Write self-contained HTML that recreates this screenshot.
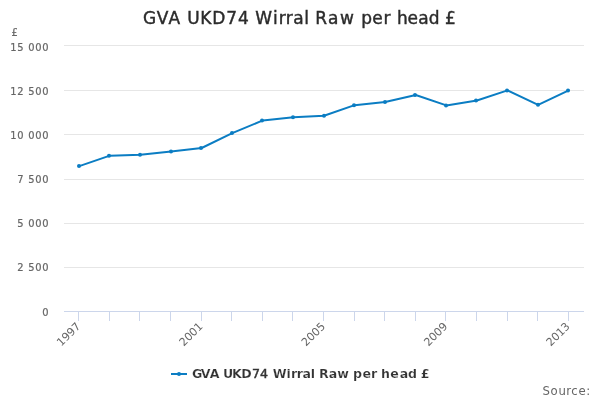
<!DOCTYPE html>
<html><head><meta charset="utf-8"><title>GVA UKD74 Wirral Raw per head £</title>
<style>
html,body{margin:0;padding:0;background:#fff;}
body{width:600px;height:400px;overflow:hidden;}
svg{display:block;font-family:"DejaVu Sans","Liberation Sans",sans-serif;}
.c{font-family:"DejaVu Sans Condensed","DejaVu Sans","Liberation Sans",sans-serif;}
</style></head><body>
<svg width="600" height="400" viewBox="0 0 600 400">
<rect x="0" y="0" width="600" height="400" fill="#FFFFFF"/>
<g><path d="M 64 267.5 L 584 267.5" stroke="#E6E6E6" stroke-width="1" fill="none"/>
<path d="M 64 223.5 L 584 223.5" stroke="#E6E6E6" stroke-width="1" fill="none"/>
<path d="M 64 179.5 L 584 179.5" stroke="#E6E6E6" stroke-width="1" fill="none"/>
<path d="M 64 134.5 L 584 134.5" stroke="#E6E6E6" stroke-width="1" fill="none"/>
<path d="M 64 90.5 L 584 90.5" stroke="#E6E6E6" stroke-width="1" fill="none"/>
<path d="M 64 45.5 L 584 45.5" stroke="#E6E6E6" stroke-width="1" fill="none"/>
</g>
<g><path d="M 78.5 311 L 78.5 321" stroke="#CCD6EB" stroke-width="1" fill="none"/>
<path d="M 109.5 311 L 109.5 321" stroke="#CCD6EB" stroke-width="1" fill="none"/>
<path d="M 139.5 311 L 139.5 321" stroke="#CCD6EB" stroke-width="1" fill="none"/>
<path d="M 170.5 311 L 170.5 321" stroke="#CCD6EB" stroke-width="1" fill="none"/>
<path d="M 201.5 311 L 201.5 321" stroke="#CCD6EB" stroke-width="1" fill="none"/>
<path d="M 231.5 311 L 231.5 321" stroke="#CCD6EB" stroke-width="1" fill="none"/>
<path d="M 262.5 311 L 262.5 321" stroke="#CCD6EB" stroke-width="1" fill="none"/>
<path d="M 292.5 311 L 292.5 321" stroke="#CCD6EB" stroke-width="1" fill="none"/>
<path d="M 323.5 311 L 323.5 321" stroke="#CCD6EB" stroke-width="1" fill="none"/>
<path d="M 354.5 311 L 354.5 321" stroke="#CCD6EB" stroke-width="1" fill="none"/>
<path d="M 384.5 311 L 384.5 321" stroke="#CCD6EB" stroke-width="1" fill="none"/>
<path d="M 415.5 311 L 415.5 321" stroke="#CCD6EB" stroke-width="1" fill="none"/>
<path d="M 445.5 311 L 445.5 321" stroke="#CCD6EB" stroke-width="1" fill="none"/>
<path d="M 476.5 311 L 476.5 321" stroke="#CCD6EB" stroke-width="1" fill="none"/>
<path d="M 507.5 311 L 507.5 321" stroke="#CCD6EB" stroke-width="1" fill="none"/>
<path d="M 537.5 311 L 537.5 321" stroke="#CCD6EB" stroke-width="1" fill="none"/>
<path d="M 568.5 311 L 568.5 321" stroke="#CCD6EB" stroke-width="1" fill="none"/>
<path d="M 64 311.5 L 584 311.5" stroke="#CCD6EB" stroke-width="1" fill="none"/></g>
<g><path d="M 79.29 166.10 L 109.88 155.65 L 140.47 154.70 L 171.06 151.40 L 201.65 148.00 L 232.24 133.10 L 262.82 120.45 L 293.41 117.30 L 324.00 115.75 L 354.59 105.15 L 385.18 102.05 L 415.76 95.05 L 446.35 105.40 L 476.94 100.45 L 507.53 90.40 L 538.12 104.85 L 568.71 90.40" stroke="#0B7DC3" stroke-width="2" fill="none" stroke-linejoin="round" stroke-linecap="round"/><circle cx="79" cy="166.10" r="2" fill="#0B7DC3"/><circle cx="109" cy="155.65" r="2" fill="#0B7DC3"/><circle cx="140" cy="154.70" r="2" fill="#0B7DC3"/><circle cx="171" cy="151.40" r="2" fill="#0B7DC3"/><circle cx="201" cy="148.00" r="2" fill="#0B7DC3"/><circle cx="232" cy="133.10" r="2" fill="#0B7DC3"/><circle cx="262" cy="120.45" r="2" fill="#0B7DC3"/><circle cx="293" cy="117.30" r="2" fill="#0B7DC3"/><circle cx="324" cy="115.75" r="2" fill="#0B7DC3"/><circle cx="354" cy="105.15" r="2" fill="#0B7DC3"/><circle cx="385" cy="102.05" r="2" fill="#0B7DC3"/><circle cx="415" cy="95.05" r="2" fill="#0B7DC3"/><circle cx="446" cy="105.40" r="2" fill="#0B7DC3"/><circle cx="476" cy="100.45" r="2" fill="#0B7DC3"/><circle cx="507" cy="90.40" r="2" fill="#0B7DC3"/><circle cx="538" cy="104.85" r="2" fill="#0B7DC3"/><circle cx="568" cy="90.40" r="2" fill="#0B7DC3"/></g>
<text class="c" transform="scale(1.05 1)" y="24" font-size="18px" fill="#2B2B2B" stroke="#2B2B2B" stroke-width="0.4" xml:space="preserve"><tspan x="136.24 149.26 160.4">GVA</tspan> <tspan x="178.33 190.73 202.18 215.42 226.56">UKD74</tspan> <tspan x="242.98 260.08 265.52 272.19 279.27 289.8">Wirral</tspan> <tspan x="300.36 312.37 323.72">Raw</tspan> <tspan x="344.01 354.56 365.27">per</tspan> <tspan x="378.11 388.11 398.23 408.29">head</tspan> <tspan x="423.87">£</tspan></text>
<text class="c" x="11.45" y="36" font-size="11px" fill="#666666" stroke="#666666" stroke-width="0.2">£</text>
<g font-size="11px" fill="#666666" stroke="#666666" stroke-width="0.2"><text class="c" y="316" xml:space="preserve"><tspan x="42.35">0</tspan></text>
<text class="c" y="271" xml:space="preserve"><tspan x="17.33">2</tspan> <tspan x="28.34 35.35 42.35">500</tspan></text>
<text class="c" y="227" xml:space="preserve"><tspan x="17.34">5</tspan> <tspan x="28.35 35.35 42.35">000</tspan></text>
<text class="c" y="183" xml:space="preserve"><tspan x="17.35">7</tspan> <tspan x="28.34 35.35 42.35">500</tspan></text>
<text class="c" y="139" xml:space="preserve"><tspan x="10.36 17.35">10</tspan> <tspan x="28.35 35.35 42.35">000</tspan></text>
<text class="c" y="95" xml:space="preserve"><tspan x="10.36 17.33">12</tspan> <tspan x="28.34 35.35 42.35">500</tspan></text>
<text class="c" y="51" xml:space="preserve"><tspan x="10.36 17.34">15</tspan> <tspan x="28.35 35.35 42.35">000</tspan></text>
</g>
<g font-size="11px" fill="#666666"><text y="0" transform="translate(81.14 327.00) rotate(-45)" xml:space="preserve"><tspan x="-28 -21 -14 -7">1997</tspan></text>
<text y="0" transform="translate(203.50 327.00) rotate(-45)" xml:space="preserve"><tspan x="-28 -21 -14 -7">2001</tspan></text>
<text y="0" transform="translate(325.85 327.00) rotate(-45)" xml:space="preserve"><tspan x="-28 -21 -14 -7">2005</tspan></text>
<text y="0" transform="translate(448.20 327.00) rotate(-45)" xml:space="preserve"><tspan x="-28 -21 -14 -7">2009</tspan></text>
<text y="0" transform="translate(570.56 327.00) rotate(-45)" xml:space="preserve"><tspan x="-28 -21 -14 -7">2013</tspan></text>
</g>
<g><path d="M 171 374 L 187 374" stroke="#0B7DC3" stroke-width="2" fill="none"/><circle cx="179" cy="374" r="2" fill="#0B7DC3"/>
<text transform="scale(1.05 1)" y="377.8" font-size="12px" font-weight="bold" fill="#333333" stroke="#FFFFFF" stroke-width="0.2" paint-order="fill stroke" xml:space="preserve"><tspan x="182.84 191.22 199.79">GVA</tspan> <tspan x="212.27 221.05 229.78">UKD</tspan><tspan x="239.9 247.71" font-weight="normal" stroke="#333333" stroke-width="0.45">74</tspan> <tspan x="259.82 272.81 277.17 282.6 288.22 295.9">Wirral</tspan> <tspan x="303.85 313.06 321.16">Raw</tspan> <tspan x="336.09 345.29 353.26">per</tspan> <tspan x="362.98 371.76 380.79 388.65">head</tspan> <tspan x="400.72">£</tspan></text></g>
<text class="c" y="395" font-size="13px" fill="#666666" xml:space="preserve"><tspan x="542.42 550.4 558.41 566.33 571.35 578.4 586.22">Source:</tspan></text>

</svg>
</body></html>
